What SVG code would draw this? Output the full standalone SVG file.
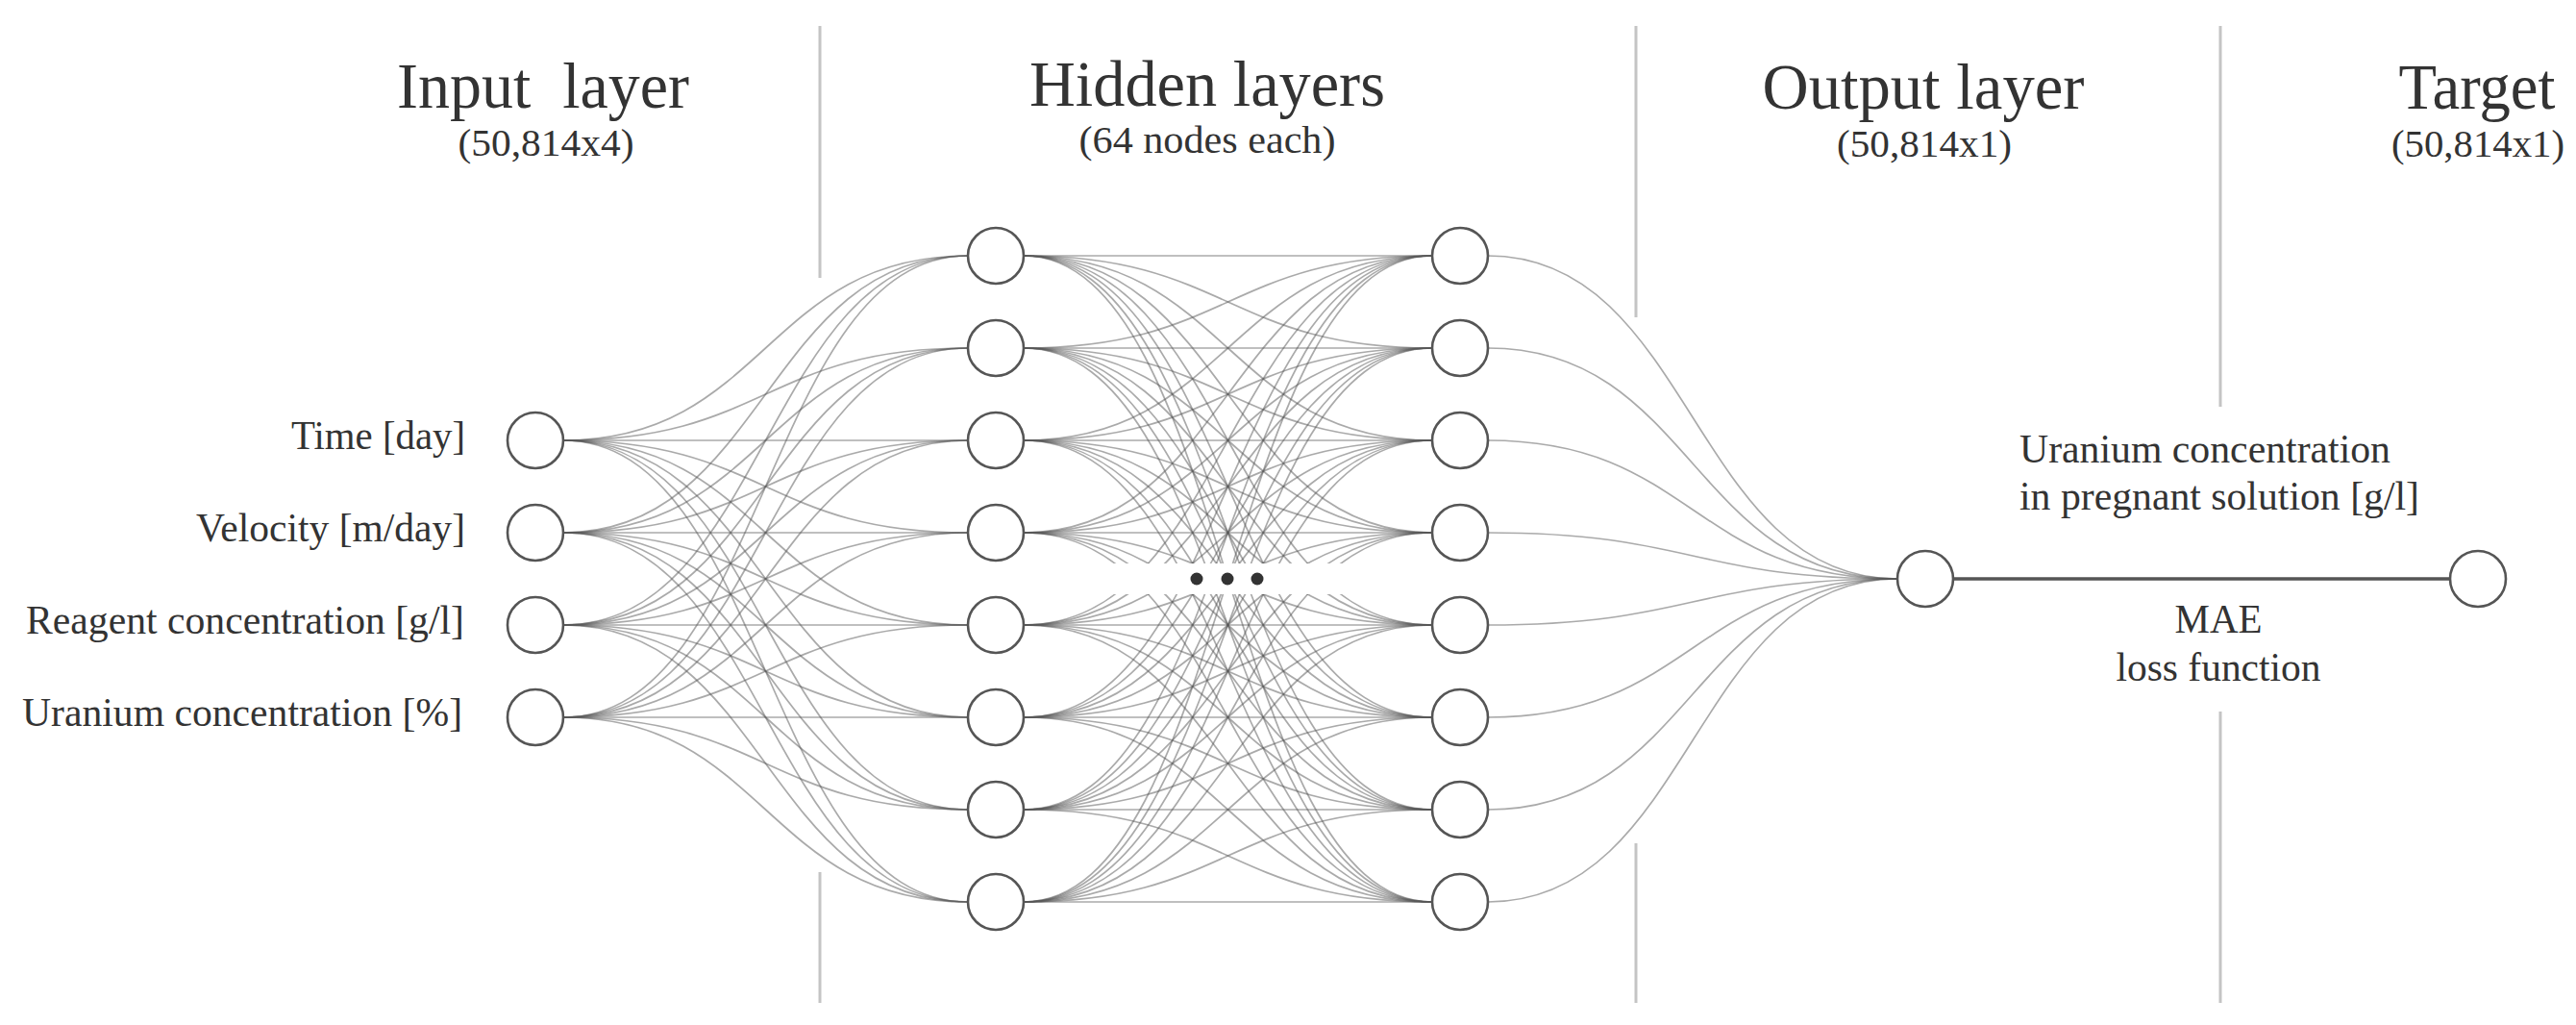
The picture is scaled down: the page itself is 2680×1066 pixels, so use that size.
<svg xmlns="http://www.w3.org/2000/svg" width="2680" height="1066" viewBox="0 0 2680 1066">
<style>
.sep{stroke:#c4c4c4;stroke-width:3;fill:none}
.c{fill:none;stroke:#555;stroke-opacity:0.5;stroke-width:1.7}
.n{fill:#fff;stroke:#555;stroke-width:2.6}
.t{font-family:"Liberation Serif","Times New Roman",serif;fill:#333}
.title{font-size:67px;text-anchor:middle}
.sub{font-size:41px;text-anchor:middle}
.lab{font-size:43px;text-anchor:end}
.lab2{font-size:42px}
.mid{font-size:42px;text-anchor:middle}
</style>
<rect width="2680" height="1066" fill="#fff"/>
<g id="separators">
<line class="sep" x1="853" y1="27" x2="853" y2="289"/>
<line class="sep" x1="853" y1="907" x2="853" y2="1043"/>
<line class="sep" x1="1702" y1="27" x2="1702" y2="330"/>
<line class="sep" x1="1702" y1="877" x2="1702" y2="1043"/>
<line class="sep" x1="2310" y1="27" x2="2310" y2="423"/>
<line class="sep" x1="2310" y1="740" x2="2310" y2="1043"/>
</g>
<g id="titles" class="t">
<text class="title" x="565" y="112" textLength="304" lengthAdjust="spacingAndGlyphs" xml:space="preserve">Input  layer</text>
<text class="sub" x="568" y="162" textLength="183" lengthAdjust="spacingAndGlyphs">(50,814x4)</text>
<text class="title" x="1256" y="110" textLength="370" lengthAdjust="spacingAndGlyphs">Hidden layers</text>
<text class="sub" x="1256" y="159" textLength="267" lengthAdjust="spacingAndGlyphs">(64 nodes each)</text>
<text class="title" x="2001" y="113" textLength="335" lengthAdjust="spacingAndGlyphs">Output layer</text>
<text class="sub" x="2002" y="163" textLength="182" lengthAdjust="spacingAndGlyphs">(50,814x1)</text>
<text class="title" x="2577" y="113" textLength="163" lengthAdjust="spacingAndGlyphs">Target</text>
<text class="sub" x="2578" y="163" textLength="180" lengthAdjust="spacingAndGlyphs">(50,814x1)</text>
</g>
<g id="connectors" class="c">
<path d="M586 458C796 458 797 266 1007 266"/><path d="M586 458C796 458 797 362 1007 362"/><path d="M586 458C796 458 797 458 1007 458"/><path d="M586 458C796 458 797 554 1007 554"/><path d="M586 458C796 458 797 650 1007 650"/><path d="M586 458C796 458 797 746 1007 746"/><path d="M586 458C796 458 797 842 1007 842"/><path d="M586 458C796 458 797 938 1007 938"/>
<path d="M586 554C796 554 797 266 1007 266"/><path d="M586 554C796 554 797 362 1007 362"/><path d="M586 554C796 554 797 458 1007 458"/><path d="M586 554C796 554 797 554 1007 554"/><path d="M586 554C796 554 797 650 1007 650"/><path d="M586 554C796 554 797 746 1007 746"/><path d="M586 554C796 554 797 842 1007 842"/><path d="M586 554C796 554 797 938 1007 938"/>
<path d="M586 650C796 650 797 266 1007 266"/><path d="M586 650C796 650 797 362 1007 362"/><path d="M586 650C796 650 797 458 1007 458"/><path d="M586 650C796 650 797 554 1007 554"/><path d="M586 650C796 650 797 650 1007 650"/><path d="M586 650C796 650 797 746 1007 746"/><path d="M586 650C796 650 797 842 1007 842"/><path d="M586 650C796 650 797 938 1007 938"/>
<path d="M586 746C796 746 797 266 1007 266"/><path d="M586 746C796 746 797 362 1007 362"/><path d="M586 746C796 746 797 458 1007 458"/><path d="M586 746C796 746 797 554 1007 554"/><path d="M586 746C796 746 797 650 1007 650"/><path d="M586 746C796 746 797 746 1007 746"/><path d="M586 746C796 746 797 842 1007 842"/><path d="M586 746C796 746 797 938 1007 938"/>
<path d="M1065 266C1277 266 1278 266 1490 266"/><path d="M1065 266C1277 266 1278 362 1490 362"/><path d="M1065 266C1277 266 1278 458 1490 458"/><path d="M1065 266C1277 266 1278 554 1490 554"/><path d="M1065 266C1277 266 1278 650 1490 650"/><path d="M1065 266C1277 266 1278 746 1490 746"/><path d="M1065 266C1277 266 1278 842 1490 842"/><path d="M1065 266C1277 266 1278 938 1490 938"/>
<path d="M1065 362C1277 362 1278 266 1490 266"/><path d="M1065 362C1277 362 1278 362 1490 362"/><path d="M1065 362C1277 362 1278 458 1490 458"/><path d="M1065 362C1277 362 1278 554 1490 554"/><path d="M1065 362C1277 362 1278 650 1490 650"/><path d="M1065 362C1277 362 1278 746 1490 746"/><path d="M1065 362C1277 362 1278 842 1490 842"/><path d="M1065 362C1277 362 1278 938 1490 938"/>
<path d="M1065 458C1277 458 1278 266 1490 266"/><path d="M1065 458C1277 458 1278 362 1490 362"/><path d="M1065 458C1277 458 1278 458 1490 458"/><path d="M1065 458C1277 458 1278 554 1490 554"/><path d="M1065 458C1277 458 1278 650 1490 650"/><path d="M1065 458C1277 458 1278 746 1490 746"/><path d="M1065 458C1277 458 1278 842 1490 842"/><path d="M1065 458C1277 458 1278 938 1490 938"/>
<path d="M1065 554C1277 554 1278 266 1490 266"/><path d="M1065 554C1277 554 1278 362 1490 362"/><path d="M1065 554C1277 554 1278 458 1490 458"/><path d="M1065 554C1277 554 1278 554 1490 554"/><path d="M1065 554C1277 554 1278 650 1490 650"/><path d="M1065 554C1277 554 1278 746 1490 746"/><path d="M1065 554C1277 554 1278 842 1490 842"/><path d="M1065 554C1277 554 1278 938 1490 938"/>
<path d="M1065 650C1277 650 1278 266 1490 266"/><path d="M1065 650C1277 650 1278 362 1490 362"/><path d="M1065 650C1277 650 1278 458 1490 458"/><path d="M1065 650C1277 650 1278 554 1490 554"/><path d="M1065 650C1277 650 1278 650 1490 650"/><path d="M1065 650C1277 650 1278 746 1490 746"/><path d="M1065 650C1277 650 1278 842 1490 842"/><path d="M1065 650C1277 650 1278 938 1490 938"/>
<path d="M1065 746C1277 746 1278 266 1490 266"/><path d="M1065 746C1277 746 1278 362 1490 362"/><path d="M1065 746C1277 746 1278 458 1490 458"/><path d="M1065 746C1277 746 1278 554 1490 554"/><path d="M1065 746C1277 746 1278 650 1490 650"/><path d="M1065 746C1277 746 1278 746 1490 746"/><path d="M1065 746C1277 746 1278 842 1490 842"/><path d="M1065 746C1277 746 1278 938 1490 938"/>
<path d="M1065 842C1277 842 1278 266 1490 266"/><path d="M1065 842C1277 842 1278 362 1490 362"/><path d="M1065 842C1277 842 1278 458 1490 458"/><path d="M1065 842C1277 842 1278 554 1490 554"/><path d="M1065 842C1277 842 1278 650 1490 650"/><path d="M1065 842C1277 842 1278 746 1490 746"/><path d="M1065 842C1277 842 1278 842 1490 842"/><path d="M1065 842C1277 842 1278 938 1490 938"/>
<path d="M1065 938C1277 938 1278 266 1490 266"/><path d="M1065 938C1277 938 1278 362 1490 362"/><path d="M1065 938C1277 938 1278 458 1490 458"/><path d="M1065 938C1277 938 1278 554 1490 554"/><path d="M1065 938C1277 938 1278 650 1490 650"/><path d="M1065 938C1277 938 1278 746 1490 746"/><path d="M1065 938C1277 938 1278 842 1490 842"/><path d="M1065 938C1277 938 1278 938 1490 938"/>
<path d="M1548 266C1761 266 1761 602 1974 602"/><path d="M1548 362C1761 362 1761 602 1974 602"/><path d="M1548 458C1761 458 1761 602 1974 602"/><path d="M1548 554C1761 554 1761 602 1974 602"/><path d="M1548 650C1761 650 1761 602 1974 602"/><path d="M1548 746C1761 746 1761 602 1974 602"/><path d="M1548 842C1761 842 1761 602 1974 602"/><path d="M1548 938C1761 938 1761 602 1974 602"/>
<line x1="2032" y1="602" x2="2549" y2="602" style="stroke:#555;stroke-opacity:1;stroke-width:3.5"/>
</g>
<g id="ellipsis">
<rect x="1068" y="586" width="420" height="32" fill="#fff"/>
<circle cx="1245" cy="602" r="6.5" fill="#333"/>
<circle cx="1277" cy="602" r="6.5" fill="#333"/>
<circle cx="1308" cy="602" r="6.5" fill="#333"/>
</g>
<g id="input-nodes">
<g id="in1"><circle class="n" cx="557" cy="458" r="29"/><text class="t lab" x="484" y="467" textLength="181" lengthAdjust="spacingAndGlyphs">Time [day]</text></g>
<g id="in2"><circle class="n" cx="557" cy="554" r="29"/><text class="t lab" x="484" y="563" textLength="280" lengthAdjust="spacingAndGlyphs">Velocity [m/day]</text></g>
<g id="in3"><circle class="n" cx="557" cy="650" r="29"/><text class="t lab" x="483" y="659" textLength="456" lengthAdjust="spacingAndGlyphs">Reagent concentration [g/l]</text></g>
<g id="in4"><circle class="n" cx="557" cy="746" r="29"/><text class="t lab" x="481" y="755" textLength="458" lengthAdjust="spacingAndGlyphs">Uranium concentration [%]</text></g>
</g>
<g id="hidden1">
<circle id="h1_1" class="n" cx="1036" cy="266" r="29"/><circle id="h1_2" class="n" cx="1036" cy="362" r="29"/><circle id="h1_3" class="n" cx="1036" cy="458" r="29"/><circle id="h1_4" class="n" cx="1036" cy="554" r="29"/><circle id="h1_5" class="n" cx="1036" cy="650" r="29"/><circle id="h1_6" class="n" cx="1036" cy="746" r="29"/><circle id="h1_7" class="n" cx="1036" cy="842" r="29"/><circle id="h1_8" class="n" cx="1036" cy="938" r="29"/>
</g>
<g id="hidden2">
<circle id="h2_1" class="n" cx="1519" cy="266" r="29"/><circle id="h2_2" class="n" cx="1519" cy="362" r="29"/><circle id="h2_3" class="n" cx="1519" cy="458" r="29"/><circle id="h2_4" class="n" cx="1519" cy="554" r="29"/><circle id="h2_5" class="n" cx="1519" cy="650" r="29"/><circle id="h2_6" class="n" cx="1519" cy="746" r="29"/><circle id="h2_7" class="n" cx="1519" cy="842" r="29"/><circle id="h2_8" class="n" cx="1519" cy="938" r="29"/>
</g>
<g id="output-node"><circle class="n" cx="2003" cy="602" r="29"/></g>
<g id="target-node"><circle class="n" cx="2578" cy="602" r="29"/></g>
<g id="labels" class="t">
<text class="lab2" x="2101" y="481" textLength="386" lengthAdjust="spacingAndGlyphs">Uranium concentration</text>
<text class="lab2" x="2101" y="530" textLength="416" lengthAdjust="spacingAndGlyphs">in pregnant solution [g/l]</text>
<text class="mid" x="2308" y="658" textLength="91" lengthAdjust="spacingAndGlyphs">MAE</text>
<text class="mid" x="2308" y="708" textLength="213" lengthAdjust="spacingAndGlyphs">loss function</text>
</g>
</svg>
